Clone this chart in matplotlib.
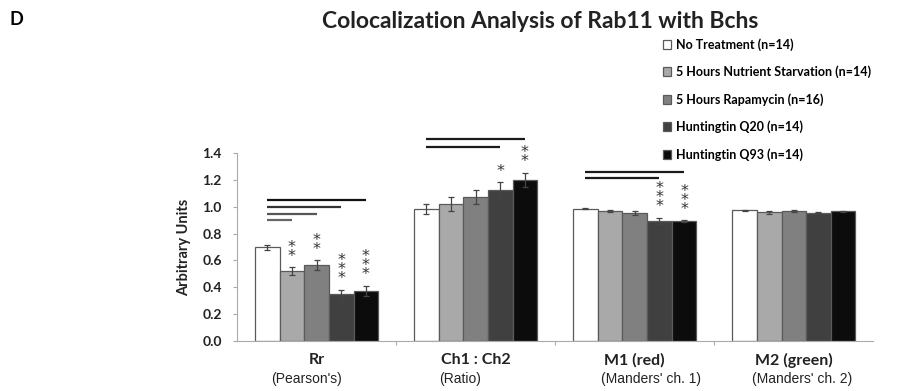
import matplotlib.pyplot as plt
import numpy as np
from matplotlib.transforms import blended_transform_factory

plt.rcParams['font.family'] = ['Lato', 'DejaVu Sans']

categories = ['Rr', 'Ch1 : Ch2', 'M1 (red)', 'M2 (green)']
subtitles = ["(Pearson's)", '(Ratio)', "(Manders' ch. 1)", "(Manders' ch. 2)"]
groups = ['No Treatment (n=14)', '5 Hours Nutrient Starvation (n=14)',
          '5 Hours Rapamycin (n=16)', 'Huntingtin Q20 (n=14)', 'Huntingtin Q93 (n=14)']

# rows = groups, columns = categories
means = [
    [0.697, 0.986, 0.986, 0.973],
    [0.520, 1.020, 0.968, 0.958],
    [0.565, 1.074, 0.953, 0.971],
    [0.346, 1.124, 0.893, 0.956],
    [0.370, 1.200, 0.893, 0.968],
]
errors = [
    [0.020, 0.038, 0.005, 0.005],
    [0.030, 0.050, 0.010, 0.012],
    [0.035, 0.050, 0.012, 0.008],
    [0.035, 0.058, 0.025, 0.005],
    [0.040, 0.055, 0.005, 0.004],
]
stars = [
    ['', '', '', ''],
    ['**', '', '', ''],
    ['**', '', '', ''],
    ['***', '*', '***', ''],
    ['***', '**', '***', ''],
]
# significance bars: (category, from group, to group, height)
sig_lines = [
    (0, 0, 1, 0.898), (0, 0, 2, 0.948), (0, 0, 3, 0.998), (0, 0, 4, 1.049),
    (1, 0, 3, 1.448), (1, 0, 4, 1.508),
    (2, 0, 3, 1.214), (2, 0, 4, 1.260),
]
yticks = [0.0, 0.2, 0.4, 0.6, 0.8, 1.0, 1.2, 1.4]

colors = ['#ffffff', '#a9a9a9', '#808080', '#404040', '#0c0c0c']
line_colors = ['#666666', '#555555', '#333333', '#111111']
width = 0.155
x = np.arange(len(categories))

fig = plt.figure(figsize=(9.21, 3.91), dpi=100)
ax = fig.add_axes([0.2573, 0.129, 0.691, 0.479])

for i, g in enumerate(groups):
    pos = x + (i - 2) * width
    ax.bar(pos, means[i], width, color=colors[i], edgecolor='#5a5a5a', linewidth=0.9,
           label=g, zorder=2)
    ax.errorbar(pos, means[i], yerr=errors[i], fmt='none', ecolor='#444444',
                elinewidth=0.9, capsize=2, capthick=0.9, zorder=3)
    for j in range(len(categories)):
        if stars[i][j]:
            ax.text(pos[j], means[i][j] + errors[i][j] + 0.025, '\n'.join(stars[i][j]),
                    ha='center', va='bottom', fontsize=11.5, linespacing=0.5,
                    color='#333333', family='DejaVu Sans')

k = 0
for cat, a, b, h in sig_lines:
    if cat == 0:
        c = line_colors[k]
        k += 1
    else:
        c = '#1a1a1a'
    ax.plot([x[cat] + (a - 2) * width, x[cat] + (b - 2) * width], [h, h],
            color=c, lw=1.6, clip_on=False, solid_capstyle='butt')

ax.set_xlim(-0.5, 3.5)
ax.set_ylim(0, 1.4)
ax.set_yticks(yticks)
ax.set_yticklabels([f'{v:.1f}' for v in yticks], fontsize=10, fontweight='bold',
                   color='#222222')
ax.set_xticks([0.5, 1.5, 2.5])
ax.set_xticklabels([])
ax.tick_params(axis='x', length=3, color='#aaaaaa', direction='out')
ax.tick_params(axis='y', length=3, color='#aaaaaa', direction='out', pad=8)
for s in ['top', 'right']:
    ax.spines[s].set_visible(False)
for s in ['left', 'bottom']:
    ax.spines[s].set_color('#aaaaaa')
    ax.spines[s].set_linewidth(0.8)

ax.set_ylabel('Arbitrary Units', fontsize=10.5, fontweight='bold', labelpad=8,
              color='#222222')

trans = blended_transform_factory(ax.transData, ax.transAxes)
sub_shift = [-0.06, -0.1, 0.1, 0.05]
for j, c in enumerate(categories):
    ax.text(x[j], -0.105, c, transform=trans, ha='center', va='center',
            fontsize=11.5, fontweight='bold', color='#222222')
    ax.text(x[j] + sub_shift[j], -0.205, subtitles[j], transform=trans, ha='center',
            va='center', fontsize=10, family='Liberation Sans', color='#222222')

fig.text(0.01, 0.95, 'D', fontsize=13, fontweight='bold', va='center')
fig.text(0.586, 0.945, 'Colocalization Analysis of Rab11 with Bchs', fontsize=16.5,
         fontweight='bold', ha='center', va='center', color='#222222')

fig.legend(loc='upper left', bbox_to_anchor=(0.714, 0.915), frameon=False,
           prop={'weight': 'bold', 'size': 9}, handlelength=0.7, handleheight=0.7,
           handletextpad=0.35, labelspacing=1.18, borderaxespad=0)

fig.savefig('out.png', dpi=100)
